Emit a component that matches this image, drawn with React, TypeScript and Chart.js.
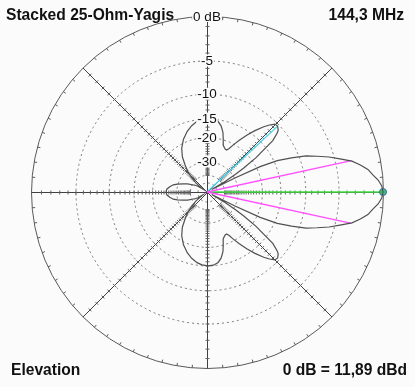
import React, { useEffect, useRef } from "react";
import { Chart, registerables } from "chart.js";

Chart.register(...registerables);

// ---- texts ----
const titleLeft = "Stacked 25-Ohm-Yagis";
const titleRight = "144,3 MHz";
const footLeft = "Elevation";
const footRight = "0 dB = 11,89 dBd";
const topLabel = "0 dB";

// ---- grid (ARRL log scale, dB) ----
const ringDb = [-5, -10, -15, -20, -30, -40, -50];
const ringLabels = ["-5", "-10", "-15", "-20", "-30", "", ""];

// ---- elevation pattern, upper half (deg, dB); free-space pattern is symmetric ----
const patternAngles = [
  0, 2, 4, 6, 8, 10, 12, 14, 16, 18, 20, 22, 24, 25.5, 26.5, 28, 30, 32, 33, 35,
  36, 38, 40, 41, 43, 45, 47, 49, 52, 55, 58, 61, 63, 65, 67, 69, 71, 73, 75, 78,
  81, 85, 89, 94, 98, 103, 108, 114, 120, 125, 129, 133, 137, 141, 145, 148, 151,
  153, 157, 161, 165, 168, 172, 176, 180,
];
const patternDb = [
  0, -0.11, -0.44, -0.95, -1.37, -2.1, -2.95, -4.3, -5.6, -7.2, -8.8, -11.3, -14.2,
  -18.8, -30, -60, -38, -28, -24, -18.5, -16.9, -12.8, -11.2, -10.7, -10.3, -10.4,
  -11.2, -12.2, -14, -16, -18.2, -20.4, -22, -22.9, -22.8, -22.3, -21.7, -19.8, -18,
  -16.4, -15.5, -15.0, -14.9, -15.1, -15.5, -16.3, -17.4, -19.1, -21.4, -24.2, -27.8,
  -31.5, -36.5, -43, -60, -48, -43, -41.8, -36.5, -33.5, -30, -28, -26.5, -25.3, -25.0,
];

// -3 dB beamwidth markers, strongest side lobe, maximum
const beamAngles = [12.3, -12.3];
const beamDb = [-3, -3];
const sideAngle = 43;
const sideDb = -10.3;
const maxAngle = 0;
const maxDb = 0;

const BG = "#fbfbfb";
const FONT = "'Liberation Sans', Arial, sans-serif";

const rNorm = (db: number) => Math.pow(0.89, -db / 2);
const toXY = (deg: number, db: number) => {
  const r = rNorm(db);
  const a = (deg * Math.PI) / 180;
  return { x: r * Math.cos(a), y: r * Math.sin(a) };
};

const polarGrid = {
  id: "polarGrid",
  beforeDraw(chart: any) {
    const { ctx, width, height } = chart;
    ctx.save();
    ctx.fillStyle = BG;
    ctx.fillRect(0, 0, width, height);
    ctx.restore();
  },
  beforeDatasetsDraw(chart: any) {
    const { ctx } = chart;
    const xs = chart.scales.x;
    const ys = chart.scales.y;
    const cx = Math.round(xs.getPixelForValue(0)) + 0.5;
    const cy = Math.round(ys.getPixelForValue(0)) + 0.5;
    const R = xs.getPixelForValue(1) - xs.getPixelForValue(0);
    ctx.save();
    ctx.lineWidth = 1;
    // dotted rings
    ctx.strokeStyle = "#7a7a7a";
    ctx.setLineDash([2, 3]);
    ringDb.forEach((db) => {
      ctx.beginPath();
      ctx.arc(cx, cy, R * rNorm(db), 0, Math.PI * 2);
      ctx.stroke();
    });
    ctx.setLineDash([]);
    // outer circle
    ctx.strokeStyle = "#5a5a5a";
    ctx.beginPath();
    ctx.arc(cx, cy, R, 0, Math.PI * 2);
    ctx.stroke();
    // outer ticks every 5 deg
    for (let a = 0; a < 360; a += 5) {
      const t = (a * Math.PI) / 180;
      ctx.beginPath();
      ctx.moveTo(cx + (R - 3) * Math.cos(t), cy - (R - 3) * Math.sin(t));
      ctx.lineTo(cx + R * Math.cos(t), cy - R * Math.sin(t));
      ctx.stroke();
    }
    // spokes with 1 dB ticks
    for (let k = 0; k < 8; k++) {
      const t = (k * 45 * Math.PI) / 180;
      const c = Math.cos(t);
      const s = Math.sin(t);
      ctx.strokeStyle = "#404040";
      ctx.beginPath();
      ctx.moveTo(cx, cy);
      ctx.lineTo(cx + R * c, cy - R * s);
      ctx.stroke();
      ctx.strokeStyle = "#606060";
      for (let db = -1; db >= -40; db--) {
        const r = R * rNorm(db);
        if (r < 12) break;
        const px = cx + r * c;
        const py = cy - r * s;
        ctx.beginPath();
        ctx.moveTo(px - 2 * s, py - 2 * c);
        ctx.lineTo(px + 2 * s, py + 2 * c);
        ctx.stroke();
      }
    }
    ctx.restore();
  },
  afterDatasetsDraw(chart: any) {
    const { ctx, width } = chart;
    const xs = chart.scales.x;
    const ys = chart.scales.y;
    const cx = xs.getPixelForValue(0);
    const cy = ys.getPixelForValue(0);
    const R = xs.getPixelForValue(1) - cx;
    ctx.save();
    ctx.font = `13.5px ${FONT}`;
    ctx.textAlign = "center";
    ctx.textBaseline = "middle";
    const drawLab = (txt: string, x: number, y: number) => {
      const w = ctx.measureText(txt).width;
      ctx.fillStyle = BG;
      ctx.fillRect(x - w / 2 - 1, y - 6, w + 2, 12);
      ctx.fillStyle = "#111";
      ctx.fillText(txt, x, y + 1);
    };
    ringDb.forEach((db, i) => {
      if (ringLabels[i]) drawLab(ringLabels[i], cx, cy - R * rNorm(db));
    });
    drawLab(topLabel, cx, cy - R);
    // titles
    ctx.font = `bold 15.6px ${FONT}`;
    ctx.fillStyle = "#111";
    ctx.textBaseline = "middle";
    ctx.textAlign = "left";
    ctx.fillText(titleLeft, 6, 16);
    ctx.fillText(footLeft, 11, 371);
    ctx.textAlign = "right";
    ctx.fillText(titleRight, width - 11, 16);
    ctx.fillText(footRight, width - 8, 371);
    ctx.restore();
  },
};

export default function App() {
  const ref = useRef<HTMLCanvasElement | null>(null);
  useEffect(() => {
    if (!ref.current) return;
    const upper = patternAngles.map((a, i) => toXY(a, patternDb[i]));
    const lowerAngles = patternAngles.slice(0, -1).reverse().map((a) => 360 - a);
    const lowerDb = patternDb.slice(0, -1).reverse();
    const lower = lowerAngles.map((a, i) => toXY(a, lowerDb[i]));
    const center = { x: 0, y: 0 };
    const seg = (color: string, p: { x: number; y: number }) => ({
      data: [center, p],
      showLine: true,
      borderColor: color,
      borderWidth: 1.3,
      pointRadius: 0,
      clip: false as any,
    });
    const chart = new Chart(ref.current, {
      type: "scatter",
      data: {
        datasets: [
          {
            data: [...upper, ...lower],
            showLine: true,
            borderColor: "#505050",
            borderWidth: 1.2,
            pointRadius: 0,
            tension: 0,
            clip: false as any,
          },
          seg("#ff50ff", toXY(beamAngles[0], beamDb[0])),
          seg("#ff50ff", toXY(beamAngles[1], beamDb[1])),
          seg("#40d8f0", toXY(sideAngle, sideDb)),
          {
            data: [center, toXY(maxAngle, maxDb)],
            showLine: true,
            borderColor: "#40e040",
            borderWidth: 1.3,
            pointRadius: [0, 3.5] as any,
            pointBackgroundColor: "#40c060",
            pointBorderColor: "#3868c8",
            pointBorderWidth: 1,
            clip: false as any,
          },
        ],
      },
      options: {
        responsive: false,
        animation: false,
        devicePixelRatio: 1,
        layout: { padding: { left: 31, right: 32, top: 16, bottom: 19 } },
        scales: {
          x: { type: "linear", min: -1, max: 1, display: false },
          y: { type: "linear", min: -1, max: 1, display: false },
        },
        plugins: {
          legend: { display: false },
          tooltip: { enabled: false },
          title: { display: false },
        },
        events: [],
      },
      plugins: [polarGrid],
    });
    return () => chart.destroy();
  }, []);
  return (
    <canvas
      ref={ref}
      width={415}
      height={387}
      style={{ position: "fixed", left: 0, top: 0, width: 415, height: 387 }}
    />
  );
}
